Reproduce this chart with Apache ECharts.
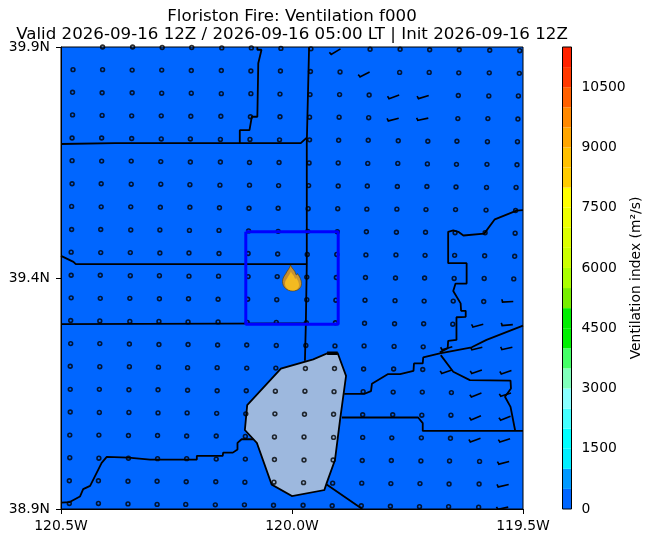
<!DOCTYPE html>
<html>
<head>
<meta charset="utf-8">
<style>
html, body { margin: 0; padding: 0; background: #fff; }
#chart { width: 654px; height: 543px; }
</style>
<script src="https://cdn.jsdelivr.net/npm/echarts@6/dist/echarts.min.js"></script>
</head>
<body>
<div id="chart"></div>
<script>
var titleLines = ['Floriston Fire: Ventilation f000', 'Valid 2026-09-16 12Z / 2026-09-16 05:00 LT | Init 2026-09-16 12Z'];
var lonTicks = [-120.5, -120.0, -119.5];
var latTicks = [38.9, 39.4, 39.9];
var colorbarTicks = [0, 1500, 3000, 4500, 6000, 7500, 9000, 10500];
var colorbarName = 'Ventilation index (m²/s)';

// colour bands, low to high
var bandEdges = [0, 500, 1000, 1500, 2000, 2500, 3000, 3500, 4000, 4500, 5000, 5500, 6000, 6500, 7000, 7500, 8000, 8500, 9000, 9500, 10000, 10500, 11000, 11500];
var bandColors = ['#0066ff', '#0099ff', '#00eeff', '#00ffff', '#44ffff', '#88ffff', '#80ffbb', '#44ff66', '#00f000', '#00ee00', '#77ee00', '#aaff00', '#ccff00', '#ddff00', '#eeff00', '#ffff00', '#ffcc00', '#ffc000', '#ffa500', '#ff8800', '#ff6000', '#ff3800', '#ff2200'];

// model grid points, one row per line, north to south
var stationLon = [
[-120.474,-120.410,-120.345,-120.281,-120.217,-120.152,-120.088,-120.024,-119.959,-119.895,-119.831,-119.766,-119.702,-119.638,-119.572,-119.507],
[-120.474,-120.410,-120.346,-120.282,-120.218,-120.153,-120.089,-120.025,-119.960,-119.896,-119.832,-119.767,-119.703,-119.639,-119.573,-119.508],
[-120.475,-120.411,-120.346,-120.282,-120.218,-120.153,-120.089,-120.026,-119.961,-119.897,-119.833,-119.768,-119.704,-119.640,-119.574,-119.510],
[-120.475,-120.411,-120.347,-120.283,-120.219,-120.154,-120.090,-120.026,-119.962,-119.898,-119.834,-119.769,-119.705,-119.641,-119.576,-119.511],
[-120.476,-120.412,-120.347,-120.283,-120.220,-120.155,-120.091,-120.027,-119.962,-119.899,-119.835,-119.770,-119.706,-119.643,-119.577,-119.512],
[-120.476,-120.412,-120.348,-120.284,-120.220,-120.155,-120.092,-120.028,-119.963,-119.900,-119.836,-119.771,-119.707,-119.644,-119.578,-119.513],
[-120.476,-120.413,-120.348,-120.284,-120.221,-120.156,-120.092,-120.029,-119.964,-119.900,-119.837,-119.772,-119.708,-119.645,-119.579,-119.515],
[-120.477,-120.413,-120.349,-120.285,-120.221,-120.157,-120.093,-120.030,-119.965,-119.901,-119.838,-119.773,-119.710,-119.646,-119.580,-119.516],
[-120.477,-120.414,-120.349,-120.286,-120.222,-120.158,-120.094,-120.030,-119.966,-119.902,-119.839,-119.774,-119.711,-119.647,-119.582,-119.517],
[-120.478,-120.414,-120.350,-120.286,-120.223,-120.158,-120.095,-120.031,-119.967,-119.903,-119.840,-119.775,-119.712,-119.648,-119.583,-119.518],
[-120.478,-120.415,-120.350,-120.287,-120.223,-120.159,-120.095,-120.032,-119.968,-119.904,-119.841,-119.776,-119.713,-119.649,-119.584,-119.520],
[-120.478,-120.415,-120.351,-120.287,-120.224,-120.160,-120.096,-120.033,-119.968,-119.905,-119.842,-119.777,-119.714,-119.651,-119.585,-119.521],
[-120.479,-120.416,-120.351,-120.288,-120.225,-120.160,-120.097,-120.034,-119.969,-119.906,-119.843,-119.778,-119.715,-119.652,-119.586,-119.522],
[-120.479,-120.416,-120.352,-120.288,-120.225,-120.161,-120.098,-120.034,-119.970,-119.907,-119.844,-119.779,-119.716,-119.653,-119.588,-119.523],
[-120.480,-120.416,-120.352,-120.289,-120.226,-120.162,-120.098,-120.035,-119.971,-119.908,-119.845,-119.780,-119.717,-119.654,-119.589,-119.525],
[-120.480,-120.417,-120.353,-120.290,-120.226,-120.162,-120.099,-120.036,-119.972,-119.909,-119.846,-119.781,-119.718,-119.655,-119.590,-119.526],
[-120.480,-120.417,-120.353,-120.290,-120.227,-120.163,-120.100,-120.037,-119.973,-119.910,-119.847,-119.782,-119.719,-119.656,-119.591,-119.527],
[-120.481,-120.418,-120.354,-120.291,-120.228,-120.164,-120.101,-120.038,-119.974,-119.910,-119.847,-119.784,-119.720,-119.657,-119.592,-119.528],
[-120.481,-120.418,-120.354,-120.291,-120.228,-120.164,-120.101,-120.038,-119.974,-119.911,-119.848,-119.785,-119.721,-119.659,-119.594,-119.530],
[-120.482,-120.419,-120.355,-120.292,-120.229,-120.165,-120.102,-120.039,-119.975,-119.912,-119.849,-119.786,-119.723,-119.660,-119.595,-119.531],
[-120.482,-120.419,-120.355,-120.292,-120.230,-120.166,-120.103,-120.040,-119.976,-119.913,-119.850,-119.787,-119.724,-119.661,-119.596,-119.532]
];
var stationLat = [
[39.901,39.900,39.900,39.899,39.899,39.898,39.898,39.897,39.896,39.896,39.895,39.895,39.894,39.894,39.893,39.892],
[39.851,39.851,39.850,39.850,39.849,39.849,39.848,39.848,39.847,39.846,39.846,39.845,39.845,39.844,39.844,39.843],
[39.802,39.801,39.801,39.800,39.800,39.799,39.799,39.798,39.797,39.797,39.796,39.796,39.795,39.795,39.794,39.794],
[39.753,39.752,39.751,39.751,39.750,39.750,39.749,39.749,39.748,39.748,39.747,39.746,39.746,39.745,39.745,39.744],
[39.703,39.703,39.702,39.701,39.701,39.700,39.700,39.699,39.699,39.698,39.698,39.697,39.696,39.696,39.695,39.695],
[39.654,39.653,39.653,39.652,39.651,39.651,39.650,39.650,39.649,39.649,39.648,39.648,39.647,39.646,39.646,39.645],
[39.604,39.604,39.603,39.603,39.602,39.601,39.601,39.600,39.600,39.599,39.599,39.598,39.598,39.597,39.596,39.596],
[39.555,39.554,39.554,39.553,39.553,39.552,39.551,39.551,39.550,39.550,39.549,39.549,39.548,39.548,39.547,39.546],
[39.505,39.505,39.504,39.504,39.503,39.503,39.502,39.501,39.501,39.500,39.500,39.499,39.499,39.498,39.498,39.497],
[39.456,39.455,39.455,39.454,39.454,39.453,39.453,39.452,39.451,39.451,39.450,39.450,39.449,39.449,39.448,39.447],
[39.406,39.406,39.405,39.405,39.404,39.404,39.403,39.403,39.402,39.401,39.401,39.400,39.400,39.399,39.399,39.398],
[39.357,39.356,39.356,39.355,39.355,39.354,39.354,39.353,39.353,39.352,39.352,39.351,39.350,39.350,39.349,39.349],
[39.308,39.307,39.306,39.306,39.305,39.305,39.304,39.304,39.303,39.303,39.302,39.301,39.301,39.300,39.300,39.299],
[39.258,39.258,39.257,39.256,39.256,39.255,39.255,39.254,39.254,39.253,39.253,39.252,39.251,39.251,39.250,39.250],
[39.209,39.208,39.208,39.207,39.206,39.206,39.205,39.205,39.204,39.204,39.203,39.203,39.202,39.201,39.201,39.200],
[39.159,39.159,39.158,39.158,39.157,39.156,39.156,39.155,39.155,39.154,39.154,39.153,39.153,39.152,39.151,39.151],
[39.110,39.109,39.109,39.108,39.108,39.107,39.106,39.106,39.105,39.105,39.104,39.104,39.103,39.103,39.102,39.101],
[39.060,39.060,39.059,39.059,39.058,39.058,39.057,39.056,39.056,39.055,39.055,39.054,39.054,39.053,39.053,39.052],
[39.011,39.010,39.010,39.009,39.009,39.008,39.008,39.007,39.006,39.006,39.005,39.005,39.004,39.004,39.003,39.003],
[38.961,38.961,38.960,38.960,38.959,38.959,38.958,38.958,38.957,38.956,38.956,38.955,38.955,38.954,38.954,38.953],
[38.912,38.912,38.911,38.910,38.910,38.909,38.909,38.908,38.908,38.907,38.907,38.906,38.905,38.905,38.904,38.904]
];

// wind barbs: grid row, grid column, direction wind is from (deg), speed (kt). everything else is calm
var barbRow = [0, 1, 2, 2, 3, 3, 11, 12, 12, 13, 13, 13, 14, 14, 14, 15, 15, 16, 16, 17, 17, 18, 19, 20];
var barbCol = [9, 10, 11, 12, 11, 12, 15, 14, 15, 13, 14, 15, 13, 14, 15, 14, 15, 14, 15, 14, 15, 15, 15, 15];
var barbDir = [239, 243, 250, 253, 255, 258, 267, 255, 265, 254, 256, 258, 251, 251, 251, 248, 252, 247, 248, 250, 252, 255, 257, 258];
var barbSpeed = [5, 5, 5, 5, 5, 5, 5, 5, 5, 5, 5, 5, 5, 5, 5, 5, 5, 5, 5, 5, 5, 5, 5, 5];

var fireLocation = [-120.0, 39.4];
var boxLons = [-120.1, -119.9, -119.9, -120.1, -120.1];
var boxLats = [39.5, 39.5, 39.3, 39.3, 39.5];

var lakeOutline = [[-119.924,39.237],[-119.901,39.237],[-119.883,39.188],[-119.896,39.093],[-119.907,39.006],[-119.925,38.956],[-119.930,38.941],[-120.000,38.928],[-120.044,38.953],[-120.076,39.043],[-120.102,39.071],[-120.097,39.125],[-120.024,39.204],[-119.954,39.224]];
var lakeTopEdge = [[-119.924,39.237],[-119.901,39.237]];

var borderLines = [
    [[-120.5,39.690],[-120.383,39.692],[-120.113,39.692],[-119.981,39.692],[-119.968,39.704]],
    [[-120.113,39.692],[-120.113,39.720],[-120.092,39.720],[-120.087,39.749],[-120.075,39.749],[-120.073,39.865],[-120.066,39.894],[-120.075,39.894],[-120.075,39.9]],
    [[-119.963,39.9],[-119.968,39.692],[-119.968,39.430],[-119.970,39.303],[-119.972,39.221]],
    [[-120.5,39.448],[-120.473,39.435],[-120.468,39.430],[-119.968,39.430]],
    [[-120.5,39.300],[-119.970,39.302]],
    [[-120.5,38.914],[-120.481,38.915],[-120.459,38.927],[-120.452,38.943],[-120.437,38.950],[-120.412,39.000],[-120.401,39.013],[-120.354,39.011],[-120.307,39.007],[-120.206,39.007],[-120.206,39.015],[-120.150,39.015],[-120.149,39.022],[-120.128,39.022],[-120.118,39.029],[-120.118,39.043],[-120.109,39.051],[-120.084,39.051]],
    [[-119.887,39.149],[-119.844,39.149],[-119.829,39.155],[-119.827,39.171],[-119.792,39.192],[-119.766,39.192],[-119.737,39.199],[-119.736,39.215],[-119.717,39.215],[-119.716,39.228],[-119.680,39.237],[-119.611,39.250],[-119.579,39.266],[-119.5,39.297]],
    [[-119.680,39.239],[-119.663,39.248],[-119.662,39.264],[-119.644,39.266],[-119.644,39.315],[-119.624,39.316],[-119.624,39.329],[-119.634,39.329],[-119.635,39.345],[-119.651,39.372],[-119.646,39.388],[-119.622,39.388],[-119.622,39.432],[-119.662,39.432],[-119.662,39.500],[-119.651,39.503],[-119.640,39.500],[-119.629,39.492],[-119.584,39.496],[-119.561,39.527],[-119.514,39.546],[-119.5,39.547]],
    [[-119.678,39.233],[-119.651,39.197],[-119.615,39.179],[-119.527,39.178],[-119.526,39.161],[-119.539,39.143],[-119.527,39.121],[-119.517,39.070]],
    [[-119.892,39.098],[-119.727,39.098],[-119.717,39.086],[-119.717,39.069],[-119.5,39.069]],
    [[-119.925,38.953],[-119.851,38.902],[-119.848,38.9]]
];

var FONT = 'DejaVu Sans';
var FLAME = 'path://M24 0C27 10 38 16 40 28C42 32 44 30 45 26C52 36 57 46 57 56C57 70 46 79 30 79C14 79 0 68 0 50C0 40 6 32 10 26C12 20 22 10 24 0Z';

var chart = echarts.init(document.getElementById('chart'));

var isBarb = {};
var barbData = [];
barbRow.forEach(function (r, k) {
    isBarb[r + '_' + barbCol[k]] = true;
    barbData.push([stationLon[r][barbCol[k]], stationLat[r][barbCol[k]], barbDir[k], barbSpeed[k]]);
});
var calmData = [];
stationLon.forEach(function (row, r) {
    row.forEach(function (lon, c) {
        if (!isBarb[r + '_' + c]) {
            calmData.push([lon, stationLat[r][c]]);
        }
    });
});

function renderBarb(params, api) {
    var tip = api.coord([api.value(0), api.value(1)]);
    var rad = api.value(2) * Math.PI / 180;
    var vx = Math.sin(rad), vy = -Math.cos(rad);
    var tail = [tip[0] + vx * 11.5, tip[1] + vy * 11.5];
    var base = [tip[0] + vx * 10.6, tip[1] + vy * 10.6];
    var flag = [base[0] + vx * 0.8 - vy * 2.8, base[1] + vy * 0.8 + vx * 2.8];
    var style = {stroke: '#000', lineWidth: 1.6, fill: null};
    return {
        type: 'group',
        children: [
            {type: 'line', shape: {x1: tip[0], y1: tip[1], x2: tail[0], y2: tail[1]}, style: style},
            {type: 'line', shape: {x1: base[0], y1: base[1], x2: flag[0], y2: flag[1]}, style: style}
        ]
    };
}

function renderLake(params, api) {
    var pts = lakeOutline.map(function (p) { return api.coord(p); });
    return {type: 'polygon', shape: {points: pts}, style: {fill: '#9db8de', stroke: '#000', lineWidth: 1.8}};
}

var series = [];
series.push({type: 'custom', renderItem: renderLake, data: [0], clip: true, silent: true, z: 2});
borderLines.forEach(function (b) {
    series.push({type: 'line', data: b, symbol: 'none', silent: true, z: 3,
        lineStyle: {color: '#000', width: 1.8}});
});
series.push({type: 'line', data: lakeTopEdge, symbol: 'none', silent: true, z: 3, lineStyle: {color: '#000', width: 3.5}});
series.push({type: 'scatter', data: calmData, symbol: 'circle', symbolSize: 3.8, silent: true, clip: true, z: 4,
    itemStyle: {color: 'rgba(0,0,0,0)', borderColor: '#000', borderWidth: 1.6}});
series.push({type: 'custom', renderItem: renderBarb, data: barbData, clip: true, silent: true, z: 4,
    encode: {x: 0, y: 1}});
series.push({type: 'line', data: boxLons.map(function (v, i) { return [v, boxLats[i]]; }), symbol: 'none', silent: true, z: 5,
    lineStyle: {color: '#0000ff', width: 3}});
series.push({type: 'scatter', data: [fireLocation], symbol: FLAME, symbolSize: [19, 26], symbolKeepAspect: false, silent: true, z: 6,
    itemStyle: {color: new echarts.graphic.LinearGradient(0, 0, 1, 0, [{offset: 0, color: '#f09000'}, {offset: 1, color: '#ffa800'}]), borderColor: '#5a3c00', borderWidth: 0.8}});
series.push({type: 'scatter', data: [fireLocation], symbol: FLAME, symbolSize: [14, 19], symbolOffset: [0, 3], silent: true, z: 7,
    itemStyle: {color: '#ffc41c'}});

bandColors.forEach(function (c, i) {
    series.push({type: 'bar', stack: 'cb', xAxisIndex: 1, yAxisIndex: 1, data: [bandEdges[i + 1] - bandEdges[i]],
        barWidth: '100%', silent: true, itemStyle: {color: c}});
});

chart.setOption({
    animation: false,
    backgroundColor: '#fff',
    title: {
        text: titleLines.join('\n'),
        left: 292,
        top: 8,
        padding: 0,
        textAlign: 'center',
        textStyle: {fontFamily: FONT, fontWeight: 'normal', fontSize: 16.67, lineHeight: 18, color: '#000'}
    },
    grid: [
        {left: 61, top: 47, width: 462, height: 462, show: true, backgroundColor: bandColors[0], borderColor: '#000', borderWidth: 1},
        {left: 562.5, top: 47, width: 9, height: 462, show: true, backgroundColor: 'rgba(0,0,0,0)', borderColor: '#000', borderWidth: 1, z: 10}
    ],
    xAxis: [
        {type: 'value', gridIndex: 0, min: -120.5, max: -119.5, splitLine: {show: false},
            axisLine: {show: true, onZero: false, lineStyle: {color: '#000'}},
            axisTick: {length: 5, customValues: lonTicks, lineStyle: {color: '#000'}},
            axisLabel: {customValues: lonTicks, color: '#000', fontFamily: FONT, fontSize: 13.9, margin: 10,
                formatter: function (v) { return Math.abs(v).toFixed(1) + 'W'; }}},
        {type: 'category', gridIndex: 1, data: ['index'], show: false}
    ],
    yAxis: [
        {type: 'value', gridIndex: 0, min: 38.9, max: 39.9, splitLine: {show: false},
            axisLine: {show: true, onZero: false, lineStyle: {color: '#000'}},
            axisTick: {length: 5, customValues: latTicks, lineStyle: {color: '#000'}},
            axisLabel: {customValues: latTicks, color: '#000', fontFamily: FONT, fontSize: 13.9, margin: 11,
                formatter: function (v) { return v.toFixed(1) + 'N'; }}},
        {type: 'value', gridIndex: 1, position: 'right', min: 0, max: 11500, splitLine: {show: false},
            axisLine: {show: false},
            axisTick: {length: 5, customValues: colorbarTicks, lineStyle: {color: '#000'}},
            axisLabel: {customValues: colorbarTicks, color: '#000', fontFamily: FONT, fontSize: 13.9, margin: 10,
                formatter: function (v) { return String(v); }},
            name: colorbarName, nameLocation: 'middle', nameRotate: 90, nameGap: 58,
            nameTextStyle: {color: '#000', fontFamily: FONT, fontSize: 13.9}}
    ],
    series: series
});
</script>
</body>
</html>
